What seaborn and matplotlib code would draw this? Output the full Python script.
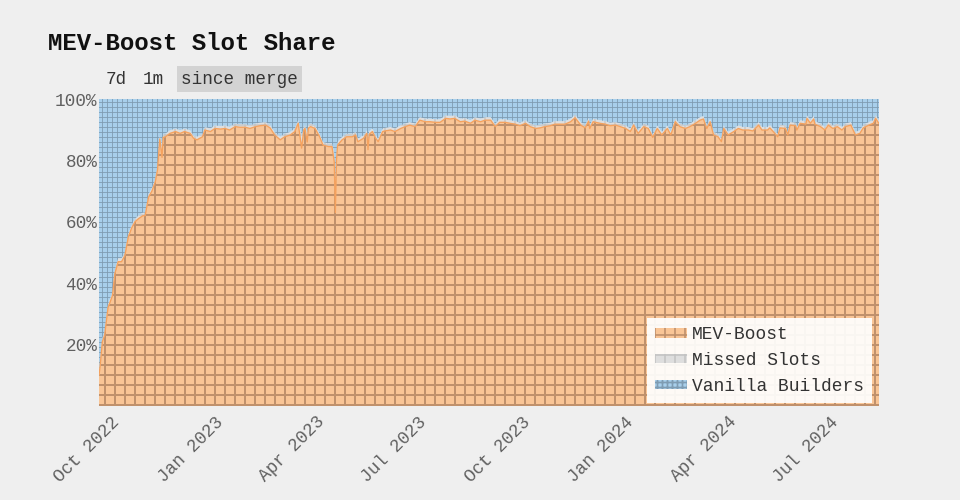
import pandas as pd
import numpy as np
import seaborn as sns
import matplotlib
matplotlib.use('Agg')
import matplotlib.pyplot as plt
import matplotlib.dates as mdates
from matplotlib.ticker import FixedLocator, FuncFormatter

# Data (share of slots, in %)
merge_date = '2022-09-15'
days_since_merge = [
    0, 1, 3, 5, 8, 12, 14, 17, 20, 23,
    26, 29, 32, 35, 39, 41, 44, 47, 48, 50,
    52, 54, 56, 57, 59, 63, 68, 72, 76, 81,
    84, 87, 92, 94, 99, 103, 108, 112, 116, 121,
    125, 130, 134, 139, 143, 148, 152, 156, 161, 165,
    170, 174, 177, 180, 182, 183, 185, 186, 188, 192,
    196, 199, 204, 207, 209, 210, 211, 212, 216, 220,
    225, 228, 230, 235, 238, 239, 240, 243, 245, 248,
    252, 254, 259, 263, 268, 272, 276, 281, 285, 290,
    294, 299, 303, 308, 312, 316, 321, 325, 330, 334,
    339, 343, 348, 352, 356, 361, 365, 370, 374, 379,
    383, 388, 392, 396, 401, 405, 410, 414, 419, 423,
    428, 432, 435, 436, 439, 445, 450, 454, 459, 463,
    468, 472, 475, 479, 484, 488, 492, 496, 500, 505,
    508, 512, 516, 521, 525, 530, 534, 537, 540, 543,
    546, 550, 553, 555, 559, 564, 568, 572, 577, 581,
    586, 589, 594, 596, 599, 603, 605, 610, 612, 614,
    619, 620, 623, 628, 629, 632, 635, 636, 641, 645,
    648, 652, 656, 660, 663, 668, 672, 676, 679, 684,
    688, 690, 692, 693,
]
mev_boost_share = [
    10, 13, 21, 23, 32, 36, 43, 47, 47, 49,
    55, 58, 60, 61, 62, 62, 68, 70, 71, 73,
    77, 87, 81, 87.5, 87.7, 88.8, 89.4, 88.8, 89.4, 88.8,
    87.2, 86.7, 87.7, 89.9, 89.4, 90.4, 90.2, 90.4, 89.9, 91,
    90.8, 90.8, 90.4, 91, 91.3, 91.5, 90.6, 88.3, 86.7, 87.7,
    88.3, 89.4, 92.1, 84, 90, 90.4, 86, 90.5, 91, 90.4,
    87.7, 85, 84.5, 84.5, 79.6, 63, 80, 85, 86.7, 87.7,
    87.7, 88.3, 86.1, 87.2, 88.8, 83.5, 88.5, 89.4, 87.7, 86.1,
    89.4, 89.6, 89.9, 89.4, 90.4, 91, 91.5, 91, 93.1, 92.6,
    92.6, 92.4, 92.4, 93.7, 93.5, 93.7, 92.6, 92.8, 92.1, 93.1,
    92.6, 93.1, 93.1, 91, 92.4, 92.4, 92.1, 91.8, 91.3, 92.1,
    91, 90.4, 90.6, 91, 91.3, 91.8, 91.8, 91.8, 92.6, 93.9,
    91.5, 90.6, 92.8, 90.4, 92.6, 92.1, 91.8, 91.3, 91.5, 91,
    90.4, 89.4, 91.5, 88.8, 91, 90.4, 87.5, 90.4, 88.3, 90.4,
    88.3, 92.6, 91, 90.4, 91, 92.1, 93.1, 93.5, 90.4, 92.6,
    88.3, 87.7, 86.1, 90.4, 88.3, 89.4, 90.4, 89.9, 89.9, 89.6,
    91.5, 89.9, 89.9, 90.6, 89.4, 87.7, 90.6, 90.4, 88.3, 91.5,
    91.3, 89.9, 92.1, 91.8, 93.7, 92.1, 93.5, 91.8, 91, 89.9,
    91.5, 90.4, 91, 89.9, 91, 91.5, 88.3, 88.8, 90.6, 91.5,
    92.1, 93.7, 92.6, 92.0,
]
missed_slot_share = [
    1.2, 1.2, 1.2, 1.2, 1.2, 1.1, 1.1, 1.1, 1.1, 1.1,
    1, 1, 1, 1, 1, 1, 1, 1, 1, 1,
    1, 1, 4, 1, 1, 1, 1, 1, 1, 1,
    1, 1, 1, 1, 1, 1, 1, 1, 1, 1,
    1, 1, 1, 1, 1, 1, 1, 1, 1, 1,
    1, 1, 1, 4, 1, 1, 3, 1, 1, 1,
    1, 1, 1, 1, 3, 9, 2, 1, 1, 1,
    1, 1, 1, 1, 1, 3, 1, 1, 1, 1,
    1, 1, 1, 1, 1, 1, 1, 1, 1, 1,
    1, 1, 1, 1, 1, 1, 1, 1, 1, 1,
    1, 1, 1, 1, 1, 1, 1, 1, 1, 1,
    1, 1, 1, 1, 1, 1, 1, 1, 1, 1,
    1, 1, 1, 1, 1, 1, 1, 1, 1, 1,
    1, 1, 1, 1, 1, 1, 1, 1, 1, 1,
    1, 1, 1, 1, 1, 1, 1, 1, 1, 1,
    1, 1, 1, 1, 1, 1, 1, 1, 1, 1,
    1, 1, 1, 1, 1, 1, 1, 1, 1, 1,
    1, 1, 1, 1, 1, 1, 1, 1, 1, 1,
    1, 1, 1, 1, 1, 1, 1, 1, 1, 1,
    1, 1, 1, 1,
]
series_labels = ['MEV-Boost', 'Missed Slots', 'Vanilla Builders']
y_ticks = [20, 40, 60, 80, 100]
range_buttons = ['7d', '1m', 'since merge']

FONT = ['Liberation Mono', 'DejaVu Sans Mono']
BG = '#efefef'

sns.set_theme(style='white', rc={'figure.facecolor': BG, 'axes.facecolor': BG})
plt.rcParams['font.family'] = FONT

dates = pd.Timestamp(merge_date) + pd.to_timedelta(days_since_merge, unit='D')
mev = np.array(mev_boost_share, dtype=float)
missed = np.array(missed_slot_share, dtype=float)
vanilla = 100 - mev - missed

fig = plt.figure(figsize=(8, 500 / 120), dpi=120)
ax = fig.add_axes([99 / 960, 94 / 500, 780 / 960, 307 / 500])

polys = ax.stackplot(dates, mev, missed, vanilla, labels=series_labels,
                     colors=['#f9c596', '#dedede', '#a8cfeb'], linewidth=0)
styles = [('++', '#c0916c', 1.2), ('++', '#c4c4c4', 0.8), ('++++', '#7f9cb2', 0.5)]
for poly, (hatch, hcolor, hlw) in zip(polys, styles):
    poly.set_hatch(hatch)
    poly.set_edgecolor(hcolor)
    poly.set_linewidth(0)
    if hasattr(poly, 'set_hatch_linewidth'):
        poly.set_hatch_linewidth(hlw)

sns.lineplot(x=dates, y=mev, color='#f5a25e', lw=0.8, ax=ax, legend=False)

ax.set_xlim(dates[0], dates[-1])
ax.set_ylim(0, 100)
ax.yaxis.set_major_locator(FixedLocator(y_ticks))
ax.yaxis.set_major_formatter(FuncFormatter(lambda v, _: f'{v:.0f}%'))
ax.xaxis.set_major_locator(mdates.MonthLocator(bymonth=[1, 4, 7, 10]))
ax.xaxis.set_major_formatter(mdates.DateFormatter('%b %Y'))
ax.set_xlabel('')
ax.set_ylabel('')
ax.tick_params(axis='both', length=0, labelsize=10.6, labelcolor='#606060')
ax.tick_params(axis='y', pad=1)
ax.tick_params(axis='x', pad=8)
for lab in ax.get_xticklabels():
    lab.set_rotation(45)
    lab.set_ha('right')
    lab.set_va('center')
    lab.set_rotation_mode('anchor')
for s in ax.spines.values():
    s.set_visible(False)

leg = ax.legend(loc='lower right', bbox_to_anchor=(0.991, 0.01), borderaxespad=0,
                fontsize=10.7, frameon=True, fancybox=False, handlelength=1.8,
                handleheight=0.45, handletextpad=0.25, borderpad=0.45,
                labelspacing=0.5)
leg.get_frame().set_facecolor('#ffffff')
leg.get_frame().set_alpha(0.92)
leg.get_frame().set_linewidth(0)
for t in leg.get_texts():
    t.set_color('#333333')

fig.text(48 / 960, 1 - 43 / 500, 'MEV-Boost Slot Share', fontsize=14.4,
         fontweight='bold', color='#111111', va='center', ha='left')
btn_x = [106, 143, 181]
for label, x in zip(range_buttons, btn_x):
    kw = {}
    if label == 'since merge':
        kw['bbox'] = dict(boxstyle='square,pad=0.25', fc='#d3d3d3', ec='none')
    fig.text(x / 960, 1 - 79 / 500, label, fontsize=10.6, color='#333333',
             va='center', ha='left', **kw)

fig.savefig('out.png', dpi=120, facecolor=BG)
